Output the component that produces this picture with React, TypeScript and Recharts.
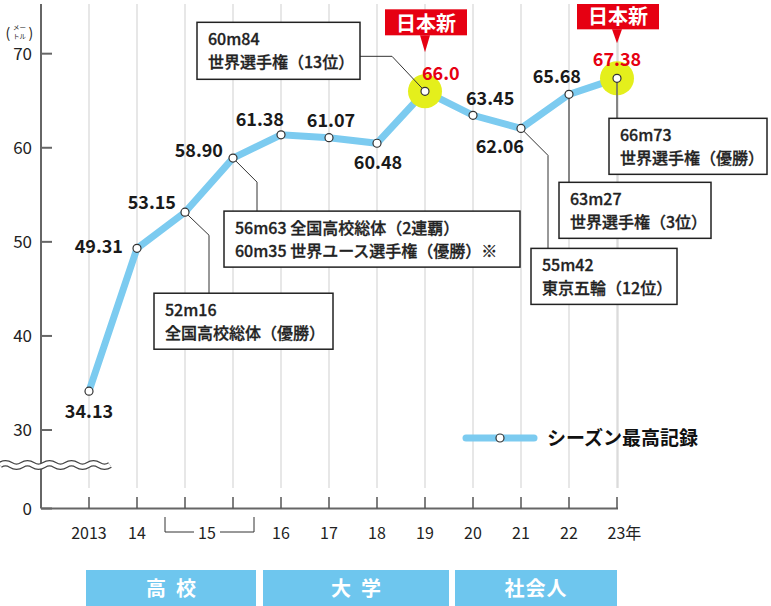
import React from 'react';
import { LineChart, Line, XAxis, YAxis, CartesianGrid } from 'recharts';

// シーズン最高記録 (m)
const years = ['2013', '14', '15a', '15b', '16', '17', '18', '19', '20', '21', '22', '23'];
const best = [34.13, 49.31, 53.15, 58.9, 61.38, 61.07, 60.48, 66.0, 63.45, 62.06, 65.68, 67.38];
const bestText = ['34.13', '49.31', '53.15', '58.90', '61.38', '61.07', '60.48', '66.0', '63.45', '62.06', '65.68', '67.38'];
const yTicks = [30, 40, 50, 60, 70];
const recordYears = ['19', '23']; // 日本新

const noteYears = ['15a', '15b', '19', '21', '22', '23'];
const noteLines = [
  ['52m16', '全国高校総体（優勝）'],
  ['56m63 全国高校総体（2連覇）', '60m35 世界ユース選手権（優勝）※'],
  ['60m84', '世界選手権（13位）'],
  ['55m42', '東京五輪（12位）'],
  ['63m27', '世界選手権（3位）'],
  ['66m73', '世界選手権（優勝）'],
];

const stages = ['高校', '大学', '社会人'];

const data = years.map((y, i) => ({ year: y, best: best[i] }));

const FONT = "'Noto Sans CJK JP', 'Noto Sans', sans-serif";
const BLUE = '#7ccbf0';
const RED = '#e60012';
const Y_MIN = 21.66;
const Y_MAX = 75.28;
const AXIS_Y = 508.5;
const AXIS_X = 41;

// label offsets from each point: [dx, dy, anchor]
const labelPos: Record<string, [number, number, string]> = {
  '2013': [0, 27, 'middle'],
  '14': [-14, 5, 'end'],
  '15a': [-9, -3, 'end'],
  '15b': [-10, -1, 'end'],
  '16': [3, -9, 'end'],
  '17': [2, -11, 'middle'],
  '18': [1, 26, 'middle'],
  '19': [-3, -11, 'start'],
  '20': [-7, -10, 'start'],
  '21': [3, 25, 'end'],
  '22': [12, -11, 'end'],
  '23': [0, -12, 'middle'],
};

// callout connectors (relative to point) and boxes [dx, dy, w, h]
const calloutLayout: Record<string, { path: number[][]; box: number[] }> = {
  '15a': { path: [[24, 23], [24, 81]], box: [-31, 81, 179, 56] },
  '15b': { path: [[24, 24], [24, 53]], box: [-9, 53, 296, 56] },
  '19': { path: [[-33, -35], [-65, -35]], box: [-228, -69, 163, 57] },
  '21': { path: [[27, 27], [27, 120]], box: [10, 120, 146, 56] },
  '22': { path: [[0, 88]], box: [-10, 88, 152, 56] },
  '23': { path: [[0, 40]], box: [-8, 40, 158, 56] },
};

// 日本新 tag: [box top dy, box bottom dy, tip dy]
const tagLayout: Record<string, number[]> = {
  '19': [-82, -56, -39],
  '23': [-76, -49, -35],
};

const renderPoint = (p: any) => {
  const { cx, cy, index } = p;
  const yr = years[index];
  const [ldx, ldy, anchor] = labelPos[yr];
  const isRecord = recordYears.includes(yr);
  const ni = noteYears.indexOf(yr);
  let callout = null;
  if (ni >= 0) {
    const lay = calloutLayout[yr];
    const d = `M${cx},${cy} ` + lay.path.map(([dx, dy]) => `L${cx + dx},${cy + dy}`).join(' ');
    const [bx, by, bw, bh] = lay.box;
    const vertical = lay.path.length === 1;
    callout = (
      <g>
        <path d={d} fill="none" stroke={vertical ? '#666' : '#333'} strokeWidth={vertical ? 1.5 : 1} />
        <rect x={cx + bx} y={cy + by} width={bw} height={bh} fill="#fff" stroke="#222" strokeWidth={1.5} />
        {noteLines[ni].map((t, k) => (
          <text
            key={k}
            x={cx + bx + 11}
            y={cy + by + 23 + k * 23}
            fontSize={16}
            fontWeight={500}
            fill="#222"
            stroke="#222"
            strokeWidth={0.3}
            fontFamily={FONT}
          >
            {t}
          </text>
        ))}
      </g>
    );
  }
  let tag = null;
  if (isRecord) {
    const [top, bottom, tip] = tagLayout[yr];
    tag = (
      <g>
        <rect x={cx - 40} y={cy + top} width={82} height={bottom - top} fill={RED} />
        <path d={`M${cx - 5},${cy + bottom} L${cx + 5},${cy + bottom} L${cx},${cy + tip} Z`} fill={RED} />
        <text x={cx + 1} y={cy + top + 22} textAnchor="middle" fontSize={20} fontWeight={700} fill="#fff" fontFamily={FONT}>
          日本新
        </text>
      </g>
    );
  }
  return (
    <g key={`pt-${index}`}>
      {callout}
      {tag}
      <text
        x={cx + ldx}
        y={cy + ldy}
        textAnchor={anchor as any}
        fontSize={18}
        fontWeight={700}
        fill={isRecord ? RED : '#1a1a1a'}
        fontFamily={FONT}
      >
        {bestText[index]}
      </text>
      <circle cx={cx} cy={cy} r={4} fill="#fff" stroke="#333" strokeWidth={1.2} />
    </g>
  );
};

const renderGlow = (p: any) => {
  const { cx, cy, index } = p;
  if (!recordYears.includes(years[index])) return <g key={`gl-${index}`} />;
  return <circle key={`gl-${index}`} cx={cx} cy={cy} r={17} fill="#e4ef1c" />;
};

const renderGrid = (p: any) => (
  <line key={p.key} x1={p.x1} x2={p.x2} y1={p.y1} y2={p.y2 - 20.5} stroke="#cfcfcf" strokeWidth={1} />
);

const XTick = (p: any) => {
  const x = p.x;
  const v = p.payload.value;
  const txt = { fontSize: 16, fill: '#222', fontFamily: FONT } as any;
  let label: any = (
    <text x={x} y={539} textAnchor="middle" {...txt}>
      {v}
    </text>
  );
  if (v === '23') {
    label = (
      <text x={x - 9.5} y={539} {...txt}>
        23年
      </text>
    );
  }
  if (v === '15a') {
    label = (
      <g>
        <path d={`M${x - 20},517 L${x - 20},532 L${x + 9},532`} fill="none" stroke="#333" strokeWidth={1} />
        <text x={x + 22} y={539} textAnchor="middle" {...txt}>
          15
        </text>
      </g>
    );
  }
  if (v === '15b') {
    label = <path d={`M${x - 13},532 L${x + 21},532 L${x + 21},517`} fill="none" stroke="#333" strokeWidth={1} />;
  }
  return (
    <g>
      <line x1={x} x2={x} y1={497} y2={AXIS_Y} stroke="#555" strokeWidth={1.5} />
      {label}
    </g>
  );
};

const YTick = (p: any) => {
  const y = p.y;
  const v = p.payload.value;
  return (
    <g>
      <line x1={AXIS_X} x2={AXIS_X + 11} y1={y} y2={y} stroke="#666" strokeWidth={2} />
      <text x={32} y={y + 6} textAnchor="end" fontSize={17} fill="#222" fontFamily={FONT}>
        {v < 25 ? '0' : v}
      </text>
    </g>
  );
};

const wavePath = () => {
  let d = 'M0,465 Q5.5,461.5 11,465';
  for (let x = 22; x <= 110; x += 11) d += ` T${x},465`;
  return d;
};

const bandPos = [
  [86, 170],
  [263, 186],
  [455, 162],
];

export default function App() {
  return (
    <div style={{ position: 'absolute', left: 0, top: 0, width: 771, height: 606, background: '#fff' }}>
      <LineChart width={771} height={606} data={data} margin={{ top: 4, right: 153, left: 0, bottom: 0 }}>
        <CartesianGrid horizontal={false} vertical={renderGrid} />
        <XAxis
          dataKey="year"
          height={97.5}
          interval={0}
          padding={{ left: 48, right: 1 }}
          axisLine={{ stroke: '#666', strokeWidth: 2 }}
          tickLine={false}
          tick={<XTick />}
        />
        <YAxis
          type="number"
          width={41}
          domain={[Y_MIN, Y_MAX]}
          ticks={[Y_MIN, ...yTicks]}
          allowDataOverflow
          axisLine={{ stroke: '#666', strokeWidth: 2 }}
          tickLine={false}
          tick={<YTick />}
        />
        <Line dataKey="best" stroke="none" dot={renderGlow} activeDot={false} isAnimationActive={false} />
        <Line
          dataKey="best"
          stroke={BLUE}
          strokeWidth={7}
          dot={renderPoint}
          activeDot={false}
          isAnimationActive={false}
        />
      </LineChart>
      <svg width={771} height={606} style={{ position: 'absolute', left: 0, top: 0, pointerEvents: 'none' }} fontFamily={FONT}>
        <path d={wavePath()} fill="none" stroke="#444" strokeWidth={6.5} />
        <path d={wavePath()} fill="none" stroke="#fff" strokeWidth={4} />
        <text x={5.5} y={38} fontSize={14} fill="#222">(</text>
        <text x={19.5} y={29.5} fontSize={6.5} textAnchor="middle" fill="#222">メー</text>
        <text x={19.5} y={39} fontSize={6.5} textAnchor="middle" fill="#222">トル</text>
        <text x={28.5} y={38} fontSize={14} fill="#222">)</text>
        <line x1={466} x2={534} y1={438} y2={438} stroke={BLUE} strokeWidth={7} strokeLinecap="round" />
        <circle cx={500} cy={438} r={4} fill="#fff" stroke="#333" strokeWidth={1.2} />
        <text x={547} y={445} fontSize={19} fontWeight={700} fill="#111">シーズン最高記録</text>
        {stages.map((s, i) => (
          <g key={s}>
            <rect x={bandPos[i][0]} y={570} width={bandPos[i][1]} height={36} fill="#6ec6ee" />
            <text
              x={bandPos[i][0] + bandPos[i][1] / 2 + (s.length === 2 ? 5 : 0)}
              y={596}
              textAnchor="middle"
              fontSize={20}
              fontWeight={700}
              fill="#fff"
              letterSpacing={s.length === 2 ? 10 : 1}
            >
              {s}
            </text>
          </g>
        ))}
      </svg>
    </div>
  );
}
